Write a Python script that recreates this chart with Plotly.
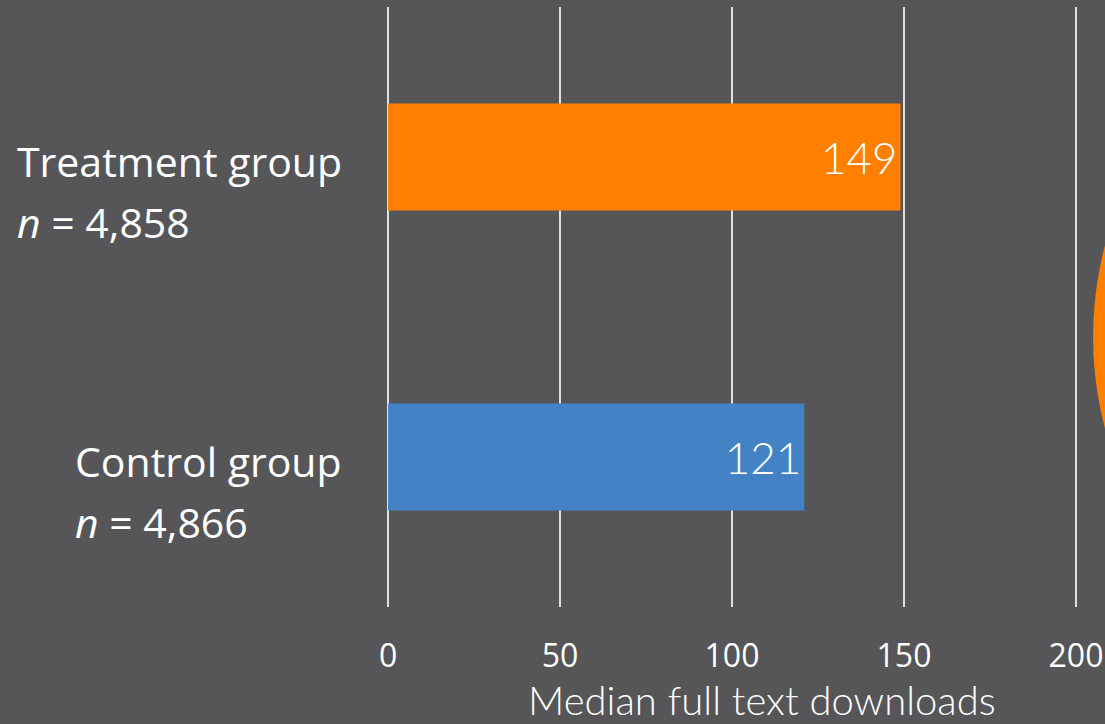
import plotly.graph_objects as go

categories = ["Treatment group", "Control group"]
n_labels = ["4,858", "4,866"]
medians = [149, 121]
bar_colors = ["#FF8000", "#4482C6"]
tick_vals = [0, 50, 100, 150, 200]
x_title = "Median full text downloads"

BG = "#565658"
LABEL_FONT = "Open Sans"
THIN_FONT = "Lato"

fig = go.Figure()
fig.add_trace(go.Bar(
    y=categories,
    x=medians,
    orientation="h",
    marker=dict(color=bar_colors, line=dict(width=0)),
    text=[str(v) for v in medians],
    textposition="inside",
    insidetextanchor="end",
    textfont=dict(family=THIN_FONT, size=44, color="white", weight=300),
    cliponaxis=False,
    hoverinfo="skip",
))

annotations = []
for cat, n in zip(categories, n_labels):
    annotations.append(dict(
        x=-0.0625, xref="paper", y=cat, yref="y",
        xanchor="right", yanchor="middle", align="left",
        yshift=-34, showarrow=False,
        text=(f"<span style='font-size:41px'>{cat}</span><br>"
              f"<span style='font-size:41px'><i>n</i> = {n}</span>"),
        font=dict(family=LABEL_FONT, size=47, color="white"),
    ))

annotations.append(dict(
    x=0.5436, xref="paper", y=-0.155, yref="paper",
    xanchor="center", yanchor="middle", showarrow=False,
    text=x_title,
    font=dict(family=THIN_FONT, size=40, color="white", weight=300),
))

fig.update_layout(
    width=1105, height=724,
    paper_bgcolor=BG, plot_bgcolor=BG,
    margin=dict(l=387, r=28, t=7, b=117),
    bargap=0.643,
    showlegend=False,
    annotations=annotations,
    shapes=[dict(
        type="circle", xref="paper", yref="paper",
        x0=1.0233, x1=2.0727, y0=-0.1495, y1=1.0498,
        fillcolor="#FF8000", line=dict(width=0), layer="above",
    )],
)

fig.update_xaxes(
    range=[-0.3, 200.3], tickvals=tick_vals,
    showgrid=True, gridcolor="#E0E0E0", gridwidth=2,
    zeroline=False, showline=False, ticks="",
    ticklabelstandoff=27, ticklabeloverflow="allow",
    automargin=False,
    tickfont=dict(family=LABEL_FONT, size=32, color="white"),
    fixedrange=True,
)
fig.update_yaxes(
    categoryorder="array", categoryarray=categories,
    autorange="reversed", automargin=False,
    showticklabels=False, showgrid=False, zeroline=False,
    showline=False, ticks="", fixedrange=True,
)

fig.write_html(
    "out.html",
    config={"displayModeBar": False},
    post_script="document.body.style.margin='0';document.body.style.overflow='hidden';",
)
